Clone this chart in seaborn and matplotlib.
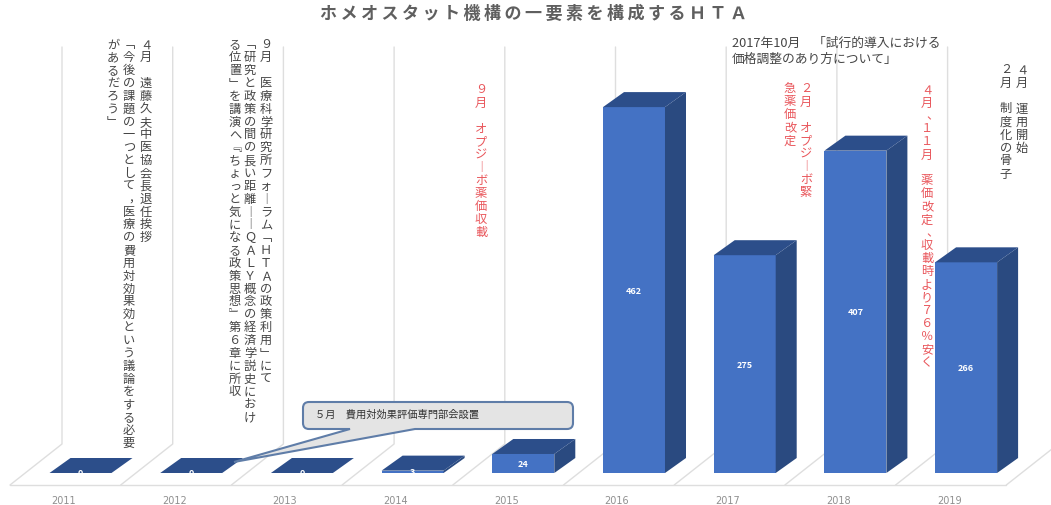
import matplotlib
matplotlib.use("Agg")
import matplotlib.pyplot as plt
import pandas as pd
import seaborn as sns
from matplotlib.patches import PathPatch, Polygon
from matplotlib.path import Path
from matplotlib.transforms import Affine2D, Bbox, TransformedBbox

# Chart values
years = ["2011", "2012", "2013", "2014", "2015", "2016", "2017", "2018", "2019"]
counts = [0, 0, 0, 3, 24, 462, 275, 407, 266]

# Text content
chart_title = "ホメオスタット機構の一要素を構成するＨＴＡ"
note_2011 = [
    "４月　遠藤久夫中医協会長退任挨拶",
    "「今後の課題の一つとして，医療の費用対効果効という議論をする必要",
    "があるだろう」",
]
note_2012 = [
    "９月　医療科学研究所フォーラム「ＨＴＡの政策利用」にて",
    "「研究と政策の間の長い距離――ＱＡＬＹ概念の経済学説史におけ",
    "る位置」を講演へ『ちょっと気になる政策思想』第６章に所収",
]
note_2015 = ["９月　オプジーボ薬価収載"]
note_2017a = ["２月　オプジーボ緊", "急薬価改定"]
note_2018 = ["４月、１１月　薬価改定、収載時より７６％安く"]
note_2019 = ["４月　運用開始", "２月　制度化の骨子"]
note_2017b = ["2017年10月　「試行的導入における", "価格調整のあり方について」"]
callout_text = "５月　費用対効果評価専門部会設置"

WIDTH, HEIGHT = 1051, 506
DARK = "#454545"
RED = "#e9575c"
GRID = "#dedede"

sns.set_theme(style="white")
plt.rcParams["font.family"] = ["Noto Sans CJK JP", "DejaVu Sans"]

fig = plt.figure(figsize=(WIDTH / 100, HEIGHT / 100), dpi=100)
px = Affine2D().scale(1, -1).translate(0, HEIGHT)  # top-left pixel coordinates

# Axis scale: bars sit 110.7 px apart, 0.792 px per unit
step, unit = 110.7, 0.792
origin_x, base_y, axis_y = 80.5, 474, 488
ax = fig.add_axes([0, (HEIGHT - axis_y) / HEIGHT, 1, axis_y / HEIGHT])

df = pd.DataFrame({"year": years, "count": counts})
sns.barplot(data=df, x="year", y="count", color="#4472c4", saturation=1,
            width=0.56, ax=ax, zorder=3, edgecolor="none", linewidth=0)
ax.set_xlim(-origin_x / step, (WIDTH - origin_x) / step)
ax.set_ylim((base_y - axis_y) / unit, base_y / unit)
ax.set_xlabel("")
ax.set_ylabel("")
ax.set_yticks([])
ax.set_xticks([i - 17 / step for i in range(len(years))], years,
              family="DejaVu Sans", fontsize=7, color="#8f8f8f")
ax.tick_params(axis="x", length=0, pad=6)
sns.despine(ax=ax, left=True, bottom=True)
ax.patch.set_alpha(0)

# Back wall and floor
for k in range(10):
    x_front, x_back = 10 + step * k, 62 + step * k
    fig.add_artist(plt.Line2D([x_back, x_back, x_front], [48, 445, 486],
                              transform=px, color=GRID, lw=1.0, zorder=0))
fig.add_artist(plt.Line2D([10, 10 + step * 9], [486, 486], transform=px,
                          color=GRID, lw=1.0, zorder=0))

# Extruded faces and value labels for each bar
depth_x, depth_y = 21 / step, 15 / unit
for bar, value in zip(ax.patches, counts):
    x0, w, h = bar.get_x(), bar.get_width(), bar.get_height()
    x1 = x0 + w
    ax.add_patch(Polygon([(x1, 0), (x1, h), (x1 + depth_x, h + depth_y), (x1 + depth_x, depth_y)],
                         closed=True, fc="#2a4a80", ec="none", zorder=3, clip_on=False))
    ax.add_patch(Polygon([(x0, h), (x1, h), (x1 + depth_x, h + depth_y), (x0 + depth_x, h + depth_y)],
                         closed=True, fc="#2c4e8a", ec="none", zorder=3, clip_on=False))
    label = ax.text(x0 + w / 2, h / 2, str(value), ha="center", va="center", color="white",
                    fontsize=6.5, fontweight="bold", zorder=5)
    label.set_clip_box(TransformedBbox(Bbox([[x0 - 1, 0], [x1 + 1, 700]]), ax.transData))
    label.set_clip_on(True)

# Vertical-setting forms of brackets and dashes
VERTICAL_FORMS = str.maketrans({"「": "\ufe41", "」": "\ufe42", "『": "\ufe43", "』": "\ufe44",
                                "―": "\ufe31", "ー": "\ufe31"})


def vertical_text(columns, xs, top, color, pitch=12.85, size=8.8):
    """Write columns top to bottom, one character per cell."""
    for chars, x in zip(columns, xs):
        for n, ch in enumerate(chars.translate(VERTICAL_FORMS)):
            if ch == "　":
                continue
            dx = 5 if ch in "、，" else 0
            fig.text(x + dx, top + n * pitch, ch, transform=px, color=color,
                     fontsize=size, ha="center", va="center", zorder=6)


vertical_text(note_2011, [146, 129, 113], 45, DARK)
vertical_text(note_2012, [266, 250, 235], 45, DARK)
vertical_text(note_2015, [481], 90, RED, pitch=13)
vertical_text(note_2017a, [806, 790], 89, RED, pitch=13)
vertical_text(note_2018, [927], 90, RED, pitch=13)
vertical_text(note_2019, [1022, 1006], 70, DARK, pitch=13)

for line, y in zip(note_2017b, [43, 59]):
    fig.text(732, y, line, transform=px, color=DARK, fontsize=9.2, ha="left", va="center", zorder=6)

fig.text(534, 14, "\u2009".join(chart_title), transform=px, color="#5f5f5f", fontsize=12.3,
         fontweight="bold", ha="center", va="center", zorder=6)

# Callout pointing at the 2012 bar
l, r, t, b, rad = 303, 573, 403, 430, 6
vertices = [(l + rad, t), (r - rad, t), (r, t), (r, t + rad), (r, b - rad), (r, b), (r - rad, b),
            (415, b), (234, 463), (350, b), (l + rad, b), (l, b), (l, b - rad),
            (l, t + rad), (l, t), (l + rad, t), (l + rad, t)]
codes = [Path.MOVETO, Path.LINETO, Path.CURVE3, Path.CURVE3, Path.LINETO, Path.CURVE3, Path.CURVE3,
         Path.LINETO, Path.LINETO, Path.LINETO, Path.LINETO, Path.CURVE3, Path.CURVE3,
         Path.LINETO, Path.CURVE3, Path.CURVE3, Path.CLOSEPOLY]
fig.add_artist(PathPatch(Path(vertices, codes), transform=px, fc="#e4e4e4", ec="#5f7da8",
                         lw=1.5, zorder=5))
fig.text(315, 415, callout_text, transform=px, color="#333333", fontsize=7.4,
         ha="left", va="center", zorder=6)

fig.savefig("out.png", dpi=100, facecolor="white")
